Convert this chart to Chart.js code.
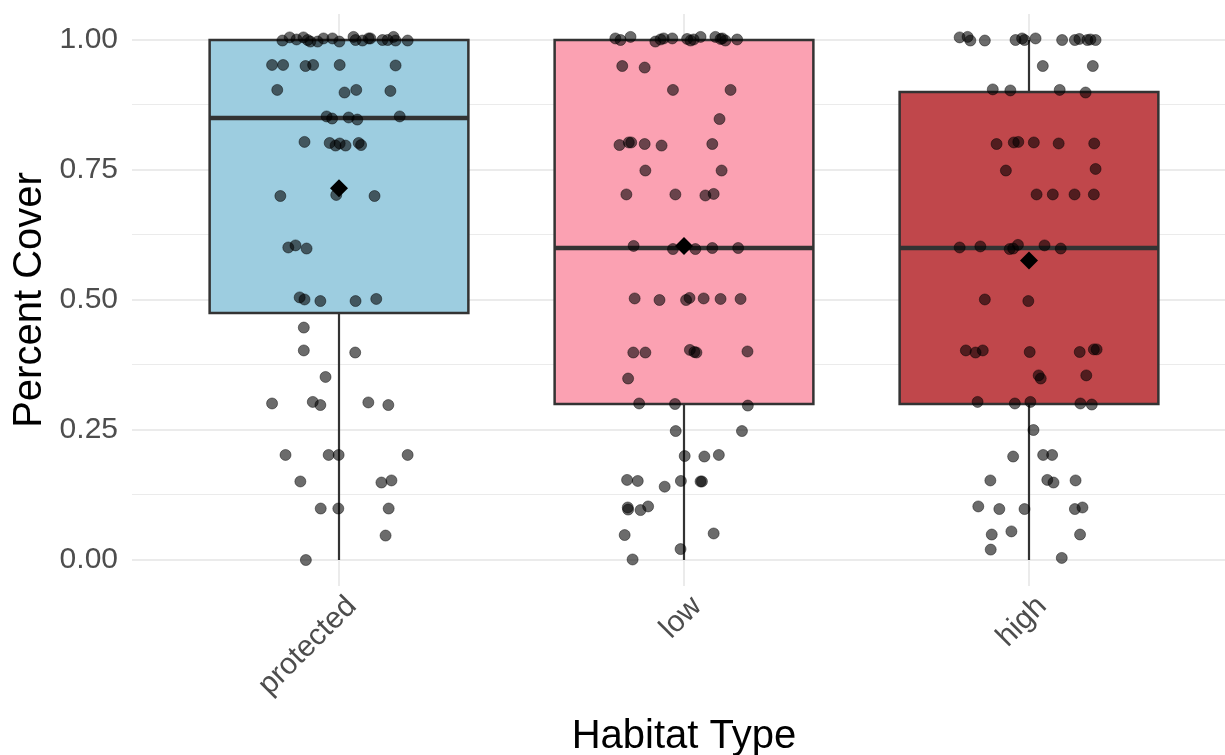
<!DOCTYPE html>
<html>
<head>
<meta charset="utf-8">
<title>Percent Cover by Habitat Type</title>
<script src="https://cdn.jsdelivr.net/npm/chart.js@4/dist/chart.umd.min.js"></script>
<style>
  html, body { margin: 0; padding: 0; background: #ffffff; overflow: hidden; }
  #chart { display: block; }
</style>
</head>
<body>
<canvas id="chart" width="1225" height="755"></canvas>
<script>
// Habitat groups along the x axis
const categories = ['protected', 'low', 'high'];

// Box summaries per habitat
const boxMin    = [0.00, 0.00, 0.00];
const boxQ1     = [0.475, 0.30, 0.30];
const boxMedian = [0.85, 0.60, 0.60];
const boxQ3     = [1.00, 1.00, 0.90];
const boxMax    = [1.00, 1.00, 1.00];
const groupMean = [0.715, 0.604, 0.576];

// Individual observations (jittered), per habitat
const protectedCover = [
  0.999, 1.005, 1.001, 1.005, 1.000, 0.997, 0.997, 1.003, 1.003, 0.997,
  1.006, 1.000, 0.999, 1.003, 1.003, 1.000, 1.000, 1.006, 0.999, 0.999,
  0.952, 0.952, 0.950, 0.952, 0.952, 0.951,
  0.904, 0.899, 0.904, 0.902,
  0.853, 0.849, 0.851, 0.847, 0.853,
  0.804, 0.802, 0.797, 0.801, 0.797, 0.802, 0.798,
  0.700, 0.702, 0.700,
  0.601, 0.605, 0.599,
  0.505, 0.501, 0.498, 0.498, 0.502,
  0.447, 0.403, 0.399, 0.352,
  0.301, 0.304, 0.298, 0.303, 0.298,
  0.202, 0.202, 0.202, 0.202,
  0.151, 0.149, 0.153,
  0.099, 0.099, 0.099,
  0.047, 0.000
];
const protectedJitter = [
  -0.164, -0.143, -0.123, -0.103, -0.091, -0.083, -0.062, -0.045, -0.019, 0.001,
  0.042, 0.048, 0.068, 0.086, 0.091, 0.126, 0.141, 0.158, 0.164, 0.199,
  -0.194, -0.162, -0.097, -0.075, 0.002, 0.164,
  -0.179, 0.016, 0.050, 0.149,
  -0.036, -0.020, 0.028, 0.053, 0.176,
  -0.100, -0.027, -0.010, 0.002, 0.019, 0.057, 0.064,
  -0.170, -0.008, 0.103,
  -0.147, -0.126, -0.094,
  -0.114, -0.100, -0.054, 0.048, 0.108,
  -0.102, -0.102, 0.047, -0.039,
  -0.194, -0.076, -0.054, 0.085, 0.143,
  -0.155, -0.030, -0.001, 0.199,
  -0.112, 0.123, 0.152,
  -0.053, -0.002, 0.144,
  0.135, -0.096
];

const lowCover = [
  1.003, 1.000, 1.006, 0.997, 1.001, 1.003, 1.003, 1.002, 0.999, 1.001,
  1.006, 1.006, 1.002, 1.003, 0.999, 1.001,
  0.950, 0.947,
  0.904, 0.904,
  0.848,
  0.798, 0.803, 0.803, 0.800, 0.797, 0.800,
  0.749, 0.749,
  0.703, 0.703, 0.701, 0.704,
  0.604, 0.598, 0.598, 0.600, 0.600,
  0.503, 0.500, 0.500, 0.504, 0.503, 0.502, 0.502,
  0.399, 0.399, 0.404, 0.400, 0.399, 0.401,
  0.349,
  0.301, 0.300, 0.297,
  0.248, 0.248,
  0.200, 0.199, 0.202,
  0.154, 0.152, 0.152, 0.151, 0.151, 0.141,
  0.101, 0.097, 0.096, 0.103,
  0.048, 0.051,
  0.021, 0.001
];
const lowJitter = [
  -0.199, -0.184, -0.155, -0.083, -0.068, -0.059, -0.034, 0.009, 0.019, 0.028,
  0.048, 0.091, 0.106, 0.111, 0.120, 0.154,
  -0.179, -0.114,
  -0.032, 0.135,
  0.103,
  -0.187, -0.160, -0.153, -0.114, -0.065, 0.082,
  -0.112, 0.109,
  -0.167, -0.025, 0.062, 0.086,
  -0.146, -0.032, 0.033, 0.082, 0.157,
  -0.143, -0.071, 0.006, 0.016, 0.057, 0.106, 0.164,
  -0.147, -0.112, 0.017, 0.030, 0.036, 0.184,
  -0.162,
  -0.130, -0.026, 0.185,
  -0.024, 0.168,
  0.002, 0.059, 0.101,
  -0.165, -0.134, -0.009, 0.048, 0.052, -0.056,
  -0.163, -0.162, -0.126, -0.104,
  -0.172, 0.086,
  -0.010, -0.149
];

const highCover = [
  1.005, 1.006, 0.999, 0.999, 1.000, 1.003, 1.000, 1.003, 1.000, 1.000,
  1.002, 1.000, 1.001, 1.000,
  0.950, 0.950,
  0.905, 0.903, 0.904, 0.899,
  0.800, 0.803, 0.804, 0.803, 0.801, 0.801,
  0.749, 0.752,
  0.703, 0.703, 0.703, 0.703,
  0.601, 0.603, 0.598, 0.599, 0.606, 0.605, 0.599,
  0.501, 0.498,
  0.403, 0.399, 0.403, 0.400, 0.400, 0.405, 0.405,
  0.355, 0.349, 0.355,
  0.304, 0.301, 0.304, 0.301, 0.299,
  0.250,
  0.199, 0.202, 0.202,
  0.153, 0.154, 0.149, 0.153,
  0.103, 0.098, 0.098, 0.098, 0.101,
  0.049, 0.055, 0.049,
  0.020, 0.004
];
const highJitter = [
  -0.201, -0.178, -0.170, -0.128, -0.039, -0.020, -0.013, 0.019, 0.096, 0.133,
  0.146, 0.169, 0.178, 0.193,
  0.040, 0.185,
  -0.105, -0.054, 0.089, 0.164,
  -0.094, -0.044, -0.031, 0.014, 0.086, 0.189,
  -0.067, 0.193,
  0.022, 0.069, 0.132, 0.188,
  -0.201, -0.141, -0.056, -0.046, -0.032, 0.045, 0.092,
  -0.128, -0.002,
  -0.183, -0.155, -0.134, 0.002, 0.147, 0.188, 0.196,
  0.028, 0.034, 0.166,
  -0.149, -0.041, 0.004, 0.149, 0.182,
  0.013,
  -0.046, 0.041, 0.067,
  -0.112, 0.053, 0.071, 0.135,
  -0.147, -0.086, -0.013, 0.133, 0.155,
  -0.108, -0.051, 0.148,
  -0.111, 0.095
];

// Axis ticks
const yTickValues = [0, 0.25, 0.5, 0.75, 1];
const yTickLabels = ['0.00', '0.25', '0.50', '0.75', '1.00'];
const yMinorValues = [0.125, 0.375, 0.625, 0.875];

// ---- styling ----
const boxFill = ['#9DCDE0', '#FBA1B2', '#C0474B'];
const boxLine = '#333333';
const boxHalfWidth = 0.375;
const gridColor = '#EBEBEB';
const fontFamily = '"Liberation Sans", Arial, Helvetica, sans-serif';
const panelRight = 1236;   // the panel runs slightly past the right edge of the canvas

const groups = [
  { cover: protectedCover, jitter: protectedJitter },
  { cover: lowCover, jitter: lowJitter },
  { cover: highCover, jitter: highJitter }
];

function toPoints(g, i) {
  return g.cover.map((v, k) => ({ x: i + 1 + g.jitter[k], y: v }));
}

// Keep the panel exactly where the axis sizes put it
function noAutoPadding(scale) {
  scale.paddingTop = 0;
  scale.paddingBottom = 0;
  scale.paddingLeft = 0;
  scale.paddingRight = 0;
}

// Stretch the panel (and the x scale) out to its right edge
const panelExtent = {
  id: 'panelExtent',
  afterLayout(chart) {
    const x = chart.scales.x;
    x.right = panelRight;
    x.width = x.right - x.left;
    x.configure();
    chart.chartArea.right = panelRight;
    chart.chartArea.width = panelRight - chart.chartArea.left;
  }
};

// Boxes and whiskers, drawn under the points through the chart's scales
const boxPlot = {
  id: 'boxPlot',
  beforeDatasetsDraw(chart) {
    const { ctx, scales: { x, y } } = chart;
    ctx.save();
    categories.forEach((c, i) => {
      const pos = i + 1;
      const xl = x.getPixelForValue(pos - boxHalfWidth);
      const xr = x.getPixelForValue(pos + boxHalfWidth);
      const xm = x.getPixelForValue(pos);
      const yMin = y.getPixelForValue(boxMin[i]);
      const yQ1 = y.getPixelForValue(boxQ1[i]);
      const yMed = y.getPixelForValue(boxMedian[i]);
      const yQ3 = y.getPixelForValue(boxQ3[i]);
      const yMax = y.getPixelForValue(boxMax[i]);

      ctx.strokeStyle = boxLine;
      ctx.lineWidth = 2.2;
      ctx.lineCap = 'butt';
      ctx.beginPath();
      ctx.moveTo(xm, yQ3); ctx.lineTo(xm, yMax);
      ctx.moveTo(xm, yQ1); ctx.lineTo(xm, yMin);
      ctx.stroke();

      ctx.fillStyle = boxFill[i];
      ctx.fillRect(xl, yQ3, xr - xl, yQ1 - yQ3);
      ctx.lineWidth = 2.5;
      ctx.strokeRect(xl, yQ3, xr - xl, yQ1 - yQ3);

      ctx.lineWidth = 4.6;
      ctx.beginPath();
      ctx.moveTo(xl, yMed); ctx.lineTo(xr, yMed);
      ctx.stroke();
    });
    ctx.restore();
  }
};

const datasets = groups.map((g, i) => ({
  label: categories[i],
  data: toPoints(g, i),
  backgroundColor: 'rgba(0,0,0,0.58)',
  borderColor: 'rgba(0,0,0,0.45)',
  borderWidth: 1,
  pointRadius: 5.5,
  pointHoverRadius: 5.5
}));

datasets.push({
  label: 'mean',
  data: groupMean.map((m, i) => ({ x: i + 1, y: m })),
  pointStyle: 'rectRot',
  backgroundColor: '#000000',
  borderColor: '#000000',
  borderWidth: 0,
  pointRadius: 9,
  pointHoverRadius: 9
});

new Chart(document.getElementById('chart'), {
  type: 'scatter',
  data: { datasets },
  plugins: [panelExtent, boxPlot],
  options: {
    responsive: false,
    animation: false,
    events: [],
    layout: { padding: { top: 14, left: 0, right: 0, bottom: 0 } },
    plugins: {
      legend: { display: false },
      tooltip: { enabled: false }
    },
    scales: {
      x: {
        type: 'linear',
        min: 0.4,
        max: 3.6,
        border: { display: false },
        grid: { color: gridColor, lineWidth: 2, drawTicks: false },
        afterBuildTicks(scale) {
          scale.ticks = categories.map((c, i) => ({ value: i + 1 }));
        },
        afterFit(scale) { scale.height = 169; noAutoPadding(scale); },
        ticks: {
          autoSkip: false,
          maxRotation: 45,
          minRotation: 45,
          padding: 3,
          labelOffset: 13,
          color: '#4D4D4D',
          font: { family: fontFamily, size: 30 },
          callback: (v) => categories[Math.round(v) - 1]
        },
        title: {
          display: true,
          text: 'Habitat Type',
          color: '#000000',
          font: { family: fontFamily, size: 40, lineHeight: 0.9 },
          padding: { top: 0, bottom: 0 }
        }
      },
      y: {
        type: 'linear',
        min: -0.05,
        max: 1.05,
        border: { display: false },
        grid: {
          color: gridColor,
          drawTicks: false,
          lineWidth: (ctx) => (ctx.tick && yTickValues.includes(ctx.tick.value)) ? 2 : 1.1
        },
        afterBuildTicks(scale) {
          scale.ticks = yTickValues.concat(yMinorValues)
            .sort((a, b) => a - b)
            .map(v => ({ value: v }));
        },
        afterFit(scale) { scale.width = 132; noAutoPadding(scale); },
        ticks: {
          padding: 14,
          color: '#4D4D4D',
          font: { family: fontFamily, size: 30 },
          callback: (v) => {
            const k = yTickValues.indexOf(v);
            return k >= 0 ? yTickLabels[k] : '';
          }
        },
        title: {
          display: true,
          text: 'Percent Cover',
          color: '#000000',
          font: { family: fontFamily, size: 40 },
          padding: { top: 6, bottom: 0 }
        }
      }
    }
  }
});
</script>
</body>
</html>
